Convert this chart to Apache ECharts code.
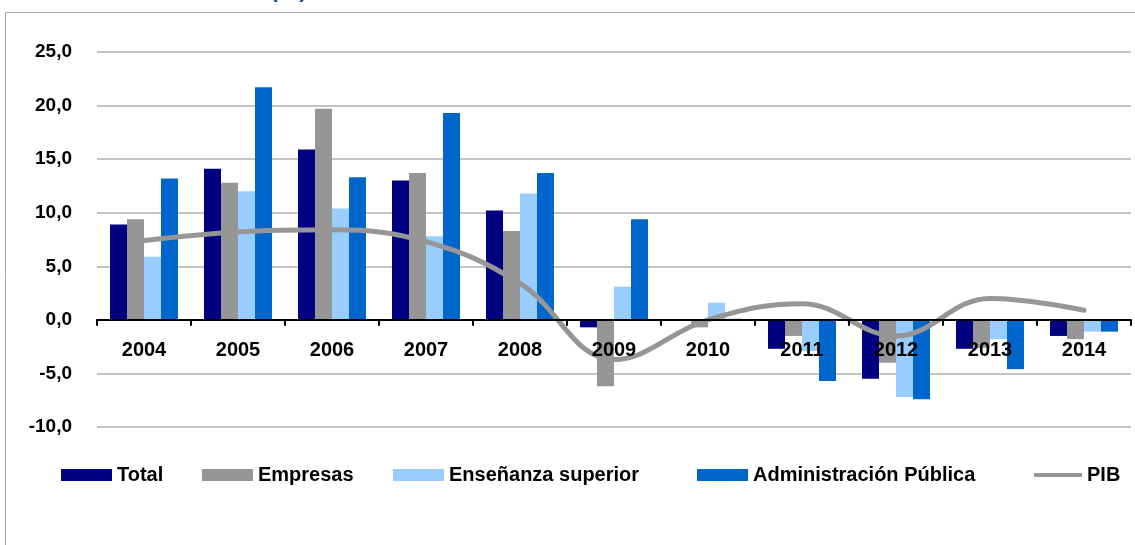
<!DOCTYPE html>
<html>
<head>
<meta charset="utf-8">
<script src="https://cdn.jsdelivr.net/npm/echarts@6/dist/echarts.min.js"></script>
<style>html,body{margin:0;padding:0;background:#fff;}#c{width:1135px;height:545px;}</style>
</head>
<body>
<div id="c"></div>
<script>
var years = ['2004','2005','2006','2007','2008','2009','2010','2011','2012','2013','2014'];
var total = [8.9, 14.1, 15.9, 13.0, 10.2, -0.7, 0.0, -2.7, -5.5, -2.7, -1.5];
var empresas = [9.4, 12.8, 19.7, 13.7, 8.3, -6.2, -0.7, -1.5, -4.0, -2.6, -1.8];
var ensenanza = [5.9, 12.0, 10.4, 7.8, 11.8, 3.1, 1.6, -2.9, -7.2, -1.8, -1.1];
var administracion = [13.2, 21.7, 13.3, 19.3, 13.7, 9.4, 0.1, -5.7, -7.4, -4.6, -1.1];
var pib = [7.4, 8.2, 8.4, 7.3, 3.4, -3.7, 0.0, 1.5, -1.5, 2.0, 0.9];
var yTicks = [-10, -5, 0, 5, 10, 15, 20, 25];

var FONT = 'Liberation Sans';
var chart = echarts.init(document.getElementById('c'), null, {renderer: 'canvas'});

function legendAt(name, left, extra) {
  var l = {
    data: [name], left: left, top: 465, padding: 0,
    itemWidth: 51, itemHeight: 12, icon: 'rect',
    textStyle: {fontFamily: FONT, fontWeight: 'bold', fontSize: 20, color: '#000'},
    selectedMode: false
  };
  if (extra) { for (var k in extra) l[k] = extra[k]; }
  return l;
}

var option = {
  animation: false,
  backgroundColor: '#fff',
  graphic: [
    {type: 'rect', shape: {x: 5.5, y: 12.5, width: 1300, height: 700}, style: {fill: 'none', stroke: '#a6a6a6', lineWidth: 1}, silent: true},
    {type: 'text', left: 270, top: -22, style: {text: '(%)', fill: '#2F5597', font: 'bold 24px ' + FONT}, silent: true}
  ],
  grid: {left: 97, right: 4, top: 52, bottom: 118, containLabel: false},
  legend: [
    legendAt('Total', 61),
    legendAt('Empresas', 202),
    legendAt('Enseñanza superior', 393),
    legendAt('Administración Pública', 697),
    legendAt('PIB', 1034, {itemWidth: 48, itemHeight: 4, itemStyle: {color: '#969696'}})
  ],
  xAxis: {
    type: 'category', data: years, z: 5,
    axisLine: {onZero: true, lineStyle: {color: '#000', width: 2}},
    axisTick: {show: true, length: 6, lineStyle: {color: '#000', width: 2}},
    axisLabel: {margin: -87, fontFamily: FONT, fontWeight: 'bold', fontSize: 20, color: '#000'},
    splitLine: {show: false}
  },
  yAxis: {
    type: 'value', min: yTicks[0], max: yTicks[yTicks.length - 1], interval: 5,
    axisLine: {show: false}, axisTick: {show: false},
    axisLabel: {margin: 25, fontFamily: FONT, fontWeight: 'bold', fontSize: 19, color: '#000',
      formatter: function (v) { return v.toFixed(1).replace('.', ','); }},
    splitLine: {lineStyle: {color: '#c4c4c4', width: 2}}
  },
  series: [
    {name: 'Total', type: 'bar', data: total, barWidth: 17, barGap: '0%', itemStyle: {color: '#000080'}},
    {name: 'Empresas', type: 'bar', data: empresas, barWidth: 17, barGap: '0%', itemStyle: {color: '#969696'}},
    {name: 'Enseñanza superior', type: 'bar', data: ensenanza, barWidth: 17, barGap: '0%', itemStyle: {color: '#99CCFF'}},
    {name: 'Administración Pública', type: 'bar', data: administracion, barWidth: 17, barGap: '0%', itemStyle: {color: '#0066CC'}},
    {name: 'PIB', type: 'line', data: pib, smooth: 0.4, showSymbol: false, symbol: 'none', z: 3,
      lineStyle: {color: '#969696', width: 5, cap: 'round'}, itemStyle: {color: '#969696'}}
  ]
};
chart.setOption(option);
</script>
</body>
</html>
